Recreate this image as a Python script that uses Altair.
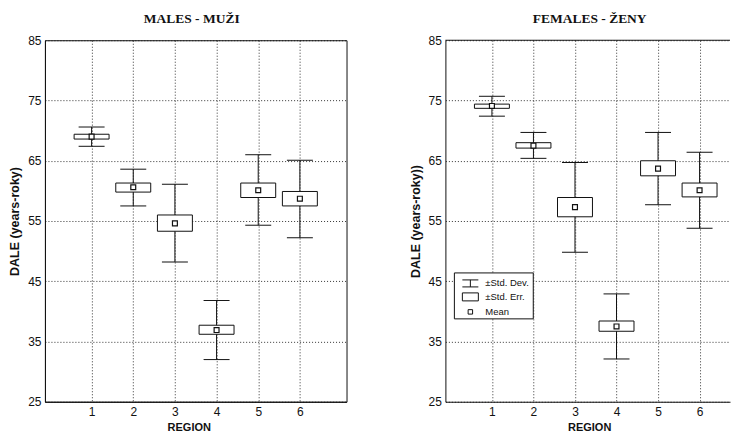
import altair as alt
import pandas as pd

regions = [1, 2, 3, 4, 5, 6]

male_mean = [69.0, 60.6, 54.6, 36.9, 60.1, 58.7]
male_se_lo = [68.6, 59.8, 53.3, 36.2, 58.9, 57.5]
male_se_hi = [69.4, 61.3, 56.0, 37.7, 61.3, 59.9]
male_sd_lo = [67.4, 57.5, 48.2, 32.0, 54.3, 52.2]
male_sd_hi = [70.6, 63.6, 61.1, 41.8, 66.0, 65.1]

female_mean = [74.1, 67.5, 57.3, 37.5, 63.7, 60.1]
female_se_lo = [73.7, 67.1, 55.7, 36.7, 62.5, 59.0]
female_se_hi = [74.4, 68.0, 58.9, 38.4, 65.0, 61.3]
female_sd_lo = [72.4, 65.4, 49.8, 32.1, 57.7, 53.8]
female_sd_hi = [75.7, 69.7, 64.7, 42.9, 69.7, 66.4]

y_ticks = [25, 35, 45, 55, 65, 75, 85]
x_ticks = [1, 2, 3, 4, 5, 6]
legend_labels = ["±Std. Dev.", "±Std. Err.", "Mean"]

INK = "#111111"
SANS = "Liberation Sans"
SERIF = "Liberation Serif"
H = 362


def make_df(mean, se_lo, se_hi, sd_lo, sd_hi):
    return pd.DataFrame({
        "region": regions, "mean": mean,
        "se_lo": se_lo, "se_hi": se_hi,
        "sd_lo": sd_lo, "sd_hi": sd_hi,
    })


def panel(df, title, ytitle, xmax, width, title_dx, framed, legend):
    xs = alt.Scale(domain=[0, xmax], nice=False, zero=False)
    ys = alt.Scale(domain=[25, 85], nice=False, zero=False)
    xaxis = alt.Axis(
        values=x_ticks, format="d", title="REGION", grid=True,
        gridDash=[1, 2], gridColor=INK, gridOpacity=0.85, gridWidth=1,
        ticks=False, labelPadding=5, labelFont=SANS, labelFontSize=12,
        labelColor=INK, titleFont=SANS, titleFontSize=11,
        titleFontWeight="bold", titleColor=INK, titleX=144, titlePadding=4,
        domain=True, domainColor=INK, domainWidth=1,
    )
    yaxis = alt.Axis(
        values=y_ticks, format="d", title=ytitle, grid=True,
        gridDash=[1, 2], gridColor=INK, gridOpacity=0.85, gridWidth=1,
        ticks=False, labelPadding=4, labelFont=SANS, labelFontSize=12,
        labelColor=INK, titleFont=SANS, titleFontSize=12.5,
        titleFontWeight="bold", titleColor=INK, titlePadding=6,
        domain=True, domainColor=INK, domainWidth=1,
    )
    base = alt.Chart(df)
    whisker = base.mark_rule(color=INK, strokeWidth=1).encode(
        x=alt.X("region:Q", scale=xs, axis=xaxis),
        y=alt.Y("sd_lo:Q", scale=ys, axis=yaxis),
        y2="sd_hi:Q",
    )
    cap_lo = base.mark_tick(orient="horizontal", size=26, thickness=1, color=INK, opacity=1).encode(
        x="region:Q", y="sd_lo:Q")
    cap_hi = base.mark_tick(orient="horizontal", size=26, thickness=1, color=INK, opacity=1).encode(
        x="region:Q", y="sd_hi:Q")
    box = base.mark_bar(size=35, fill="white", stroke=INK, strokeWidth=1).encode(
        x="region:Q", y="se_lo:Q", y2="se_hi:Q")
    mean = base.mark_point(shape="square", size=24, filled=True, fill="white",
                           stroke=INK, strokeWidth=1.2, opacity=1).encode(
        x="region:Q", y="mean:Q")
    layers = [whisker, cap_lo, cap_hi, box, mean]

    one = alt.Chart(pd.DataFrame({"k": [0]}))
    if not framed:
        layers.append(one.mark_rule(color=INK, strokeWidth=1).encode(
            x=alt.value(0), x2=alt.value(width), y=alt.value(0)))
    if legend:
        layers.append(one.mark_rect(fill="white", stroke=INK, strokeWidth=1).encode(
            x=alt.value(9), x2=alt.value(88), y=alt.value(233), y2=alt.value(279)))
        # Std. Dev. icon
        layers.append(one.mark_rule(color=INK, strokeWidth=1).encode(
            x=alt.value(17), x2=alt.value(33), y=alt.value(240)))
        layers.append(one.mark_rule(color=INK, strokeWidth=1).encode(
            x=alt.value(17), x2=alt.value(33), y=alt.value(247)))
        layers.append(one.mark_rule(color=INK, strokeWidth=1).encode(
            x=alt.value(25), y=alt.value(240), y2=alt.value(247)))
        # Std. Err. icon
        layers.append(one.mark_rect(fill="white", stroke=INK, strokeWidth=1).encode(
            x=alt.value(17), x2=alt.value(33), y=alt.value(253), y2=alt.value(261)))
        # Mean icon
        layers.append(one.mark_point(shape="square", size=20, filled=True, fill="white",
                                     stroke=INK, strokeWidth=1, opacity=1).encode(
            x=alt.value(25), y=alt.value(272)))
        for lab, yy in zip(legend_labels, [243.5, 257, 272]):
            layers.append(one.mark_text(align="left", baseline="middle", font=SANS,
                                        fontSize=9.5, color=INK).encode(
                x=alt.value(40), y=alt.value(yy), text=alt.value(lab)))

    ch = alt.layer(*layers).properties(
        width=width, height=H,
        title=alt.TitleParams(title, font=SERIF, fontSize=13.5, fontWeight="bold",
                              color=INK, anchor="middle", dx=title_dx, offset=9),
    )
    if framed:
        ch = ch.properties(view=alt.ViewBackground(stroke=INK, strokeWidth=1))
    return ch


left = panel(make_df(male_mean, male_se_lo, male_se_hi, male_sd_lo, male_sd_hi),
             "MALES - MUŽI", "DALE (years-roky)", 7, 302, -4, True, False)
right = panel(make_df(female_mean, female_se_lo, female_se_hi, female_sd_lo, female_sd_hi),
              "FEMALES - ŽENY", "DALE (years-roky))", 285 / 43.1, 285, 2, False, True)

chart = alt.hconcat(left, right, spacing=61).properties(
    padding={"left": 0, "top": 3, "right": 0, "bottom": 0},
    background="white",
).configure_view(strokeWidth=0)

chart.save("out.html", embed_options={"renderer": "svg", "actions": False})
